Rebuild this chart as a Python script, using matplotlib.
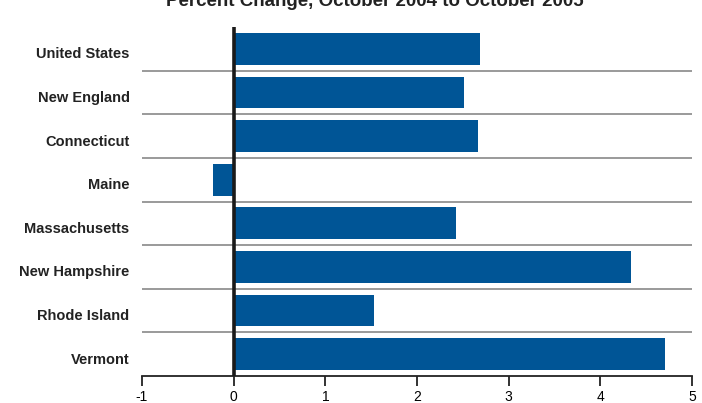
import matplotlib.pyplot as plt
import matplotlib.transforms as mtransforms

# data
states = ['United States', 'New England', 'Connecticut', 'Maine',
          'Massachusetts', 'New Hampshire', 'Rhode Island', 'Vermont']
pct_change = [2.69, 2.51, 2.66, -0.23, 2.42, 4.34, 1.53, 4.70]
x_ticks = [-1, 0, 1, 2, 3, 4, 5]

plt.rcParams['font.family'] = ['Liberation Sans', 'DejaVu Sans']

fig = plt.figure(figsize=(7.02, 4.03), dpi=100)
ax = fig.add_axes([142/702, 1 - 376/403, 550/702, 349/403])

ypos = list(range(len(states)))
ax.barh(ypos, pct_change, height=0.73, color='#005596', zorder=2)

# gray separators between categories
for i in range(len(states) - 1):
    ax.axhline(i + 0.5, color='#9a9a9a', lw=1.4, zorder=1)

ax.axvline(0, color='#1a1a1a', lw=2.6, zorder=3)   # zero line

ax.set_xlim(-1, 5)
ax.set_ylim(len(states) - 0.5, -0.5)
ax.set_xticks(x_ticks)
ax.set_xticklabels([str(t) for t in x_ticks], fontsize=10)
ax.set_yticks(ypos)
ax.set_yticklabels(states, fontsize=10.5, fontweight='bold', color='#222222')
ax.tick_params(axis='y', length=0, pad=9)
ax.tick_params(axis='x', direction='out', length=7, width=1.3, color='#222222', pad=3)

# labels sit a little below the bar centres in the original
shift = mtransforms.ScaledTranslation(0, -4/100, fig.dpi_scale_trans)
for lbl in ax.get_yticklabels():
    lbl.set_transform(lbl.get_transform() + shift)

for s in ['top', 'right', 'left']:
    ax.spines[s].set_visible(False)
ax.spines['bottom'].set_linewidth(1.3)
ax.spines['bottom'].set_color('#222222')

fig.text(375/702, 1 - 6/403, 'Percent Change, October 2004 to October 2005',
         ha='center', va='baseline', fontsize=13.5, fontweight='bold', color='#222222')

plt.savefig('out.png', dpi=100)
plt.close(None)
